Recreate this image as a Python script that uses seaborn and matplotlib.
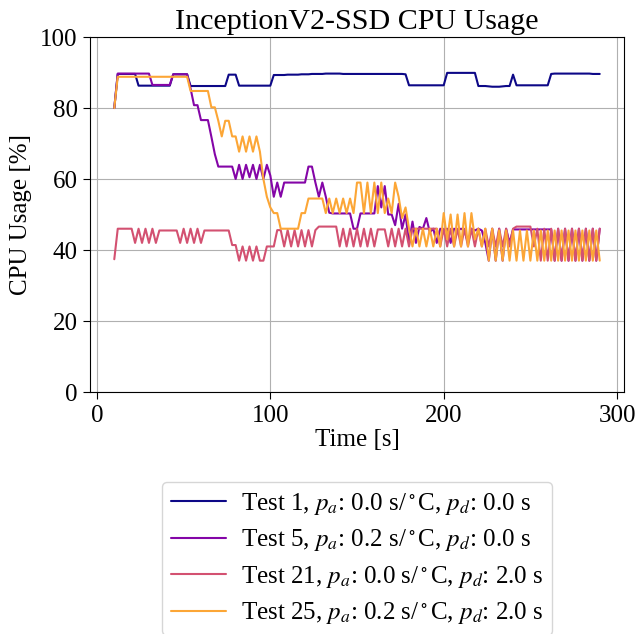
import numpy as np
import pandas as pd
import matplotlib
matplotlib.use("Agg")
import matplotlib.pyplot as plt
import seaborn as sns

# Sample times [s]
time_s = list(range(10, 291, 2))

test1 = [
    80.0, 89.6, 89.6, 89.6, 89.6, 89.6, 89.6, 86.3, 86.3, 86.3,
    86.3, 86.3, 86.3, 86.3, 86.3, 86.3, 86.3, 89.5, 89.5, 89.5,
    89.5, 89.5, 86.2, 86.2, 86.2, 86.2, 86.2, 86.2, 86.2, 86.2,
    86.2, 86.2, 86.2, 89.4, 89.4, 89.4, 86.3, 86.3, 86.3, 86.3,
    86.3, 86.3, 86.3, 86.3, 86.3, 86.3, 89.3, 89.3, 89.3, 89.3,
    89.4, 89.4, 89.4, 89.4, 89.5, 89.5, 89.5, 89.6, 89.6, 89.6,
    89.6, 89.7, 89.7, 89.7, 89.7, 89.7, 89.6, 89.6, 89.6, 89.6,
    89.6, 89.6, 89.6, 89.6, 89.6, 89.6, 89.6, 89.6, 89.6, 89.6,
    89.6, 89.6, 89.6, 89.6, 89.5, 86.4, 86.4, 86.4, 86.4, 86.4,
    86.4, 86.4, 86.4, 86.4, 86.4, 86.4, 89.9, 89.9, 89.9, 89.9,
    89.9, 89.9, 89.9, 89.9, 89.9, 86.2, 86.2, 86.2, 86.1, 86.0,
    86.0, 86.0, 86.1, 86.2, 86.2, 89.4, 86.4, 86.4, 86.4, 86.4,
    86.4, 86.4, 86.4, 86.4, 86.4, 86.4, 89.6, 89.7, 89.7, 89.7,
    89.7, 89.7, 89.7, 89.7, 89.7, 89.7, 89.7, 89.7, 89.6, 89.6,
    89.6,
]

test5 = [
    80.0, 89.7, 89.7, 89.7, 89.7, 89.7, 89.7, 89.7, 89.7, 89.7,
    89.7, 86.5, 86.5, 86.5, 86.5, 86.5, 86.5, 89.5, 89.5, 89.5,
    89.5, 89.5, 85.5, 80.8, 80.8, 76.6, 76.6, 76.6, 71.9, 67.0,
    63.5, 63.5, 63.5, 63.5, 63.5, 60.0, 64.0, 60.0, 64.0, 60.5,
    64.0, 60.0, 64.0, 60.0, 64.0, 61.0, 55.0, 59.0, 55.0, 59.0,
    59.0, 59.0, 59.0, 59.0, 59.0, 59.0, 63.5, 63.5, 59.0, 55.0,
    59.0, 55.0, 50.5, 50.3, 50.3, 50.3, 50.3, 50.3, 50.3, 46.0,
    46.0, 50.3, 50.3, 50.3, 50.3, 50.3, 58.0, 52.0, 58.0, 50.0,
    50.0, 47.0, 53.0, 46.0, 50.0, 42.0, 48.0, 42.0, 46.5, 46.0,
    49.0, 45.0, 46.0, 42.0, 46.0, 45.5, 46.0, 42.0, 46.0, 45.5,
    46.0, 45.5, 42.0, 46.0, 45.5, 46.0, 45.5, 42.0, 37.0, 46.0,
    37.0, 46.0, 37.0, 46.0, 42.0, 45.8, 45.8, 45.8, 45.8, 45.8,
    45.8, 45.8, 45.8, 45.8, 45.8, 45.8, 45.8, 37.0, 46.0, 37.0,
    46.0, 37.0, 46.0, 37.0, 46.0, 37.0, 46.0, 37.0, 46.0, 37.0,
    46.0,
]

test21 = [
    37.4, 46.0, 46.0, 46.0, 46.0, 46.0, 42.0, 46.0, 42.0, 46.0,
    42.0, 46.0, 42.0, 45.5, 45.5, 45.5, 45.5, 45.5, 45.5, 42.0,
    46.0, 42.0, 46.0, 42.0, 46.0, 42.0, 45.5, 45.5, 45.5, 45.5,
    45.5, 45.5, 45.5, 45.5, 41.4, 41.4, 37.0, 41.0, 37.0, 41.0,
    37.0, 41.0, 37.0, 37.0, 41.0, 41.0, 41.0, 45.6, 45.6, 41.0,
    45.6, 41.0, 45.6, 41.0, 45.6, 41.0, 45.6, 41.0, 45.6, 46.6,
    46.6, 46.6, 46.6, 46.6, 46.6, 41.0, 46.0, 41.0, 46.0, 41.0,
    46.0, 41.0, 46.0, 41.0, 46.0, 41.0, 45.8, 45.8, 45.8, 41.0,
    46.0, 41.0, 46.0, 41.0, 46.0, 41.0, 46.0, 46.0, 46.0, 46.0,
    46.0, 46.0, 46.0, 46.0, 41.0, 46.0, 41.0, 46.0, 41.0, 46.0,
    41.0, 46.0, 41.0, 46.0, 41.0, 46.0, 41.0, 46.0, 41.0, 46.0,
    41.0, 46.0, 41.0, 46.0, 41.0, 46.0, 46.6, 46.6, 46.6, 46.6,
    46.6, 41.0, 46.0, 37.0, 46.0, 37.0, 46.0, 37.0, 46.0, 37.0,
    46.0, 37.0, 46.0, 37.0, 46.0, 37.0, 46.0, 37.0, 46.0, 37.0,
    46.0,
]

test25 = [
    80.0, 88.8, 88.8, 88.8, 88.8, 88.8, 88.8, 88.8, 88.8, 88.8,
    88.8, 88.8, 88.8, 88.8, 88.8, 88.8, 88.8, 88.8, 88.8, 88.8,
    88.8, 88.8, 84.8, 84.8, 84.8, 84.8, 84.8, 84.8, 80.2, 80.2,
    76.4, 72.0, 76.4, 76.4, 72.0, 72.0, 67.7, 72.0, 67.7, 72.0,
    67.7, 72.0, 67.7, 60.0, 55.0, 52.0, 50.4, 50.4, 46.0, 46.0,
    46.0, 46.0, 46.0, 46.0, 50.4, 50.4, 54.5, 54.5, 54.5, 54.5,
    54.5, 50.4, 54.5, 50.4, 54.5, 50.4, 54.5, 50.4, 54.5, 50.4,
    59.0, 59.0, 50.4, 59.0, 50.4, 59.0, 50.4, 59.0, 50.4, 54.5,
    50.4, 59.0, 55.0, 49.0, 52.0, 46.0, 41.0, 46.0, 41.0, 46.0,
    41.0, 46.0, 41.0, 46.0, 41.0, 50.4, 43.0, 50.0, 41.0, 50.0,
    41.0, 50.4, 41.0, 50.4, 43.0, 46.0, 41.0, 46.0, 37.0, 46.0,
    37.0, 45.5, 37.0, 45.5, 37.0, 45.5, 37.0, 45.5, 37.0, 45.5,
    37.0, 45.5, 37.0, 45.5, 37.0, 45.5, 37.0, 45.5, 37.0, 45.5,
    37.0, 45.5, 37.0, 45.5, 37.0, 45.5, 37.0, 45.5, 37.0, 45.5,
    37.0,
]

labels = [
    r"Test 1, $p_a$: 0.0 s/$^\circ$C, $p_d$: 0.0 s",
    r"Test 5, $p_a$: 0.2 s/$^\circ$C, $p_d$: 0.0 s",
    r"Test 21, $p_a$: 0.0 s/$^\circ$C, $p_d$: 2.0 s",
    r"Test 25, $p_a$: 0.2 s/$^\circ$C, $p_d$: 2.0 s",
]

frames = []
for lab, vals in zip(labels, [test1, test5, test21, test25]):
    frames.append(pd.DataFrame({"Time": time_s, "CPU": vals, "Test": lab}))
df = pd.concat(frames, ignore_index=True)

sns.set_theme(style="ticks")
plt.rcParams["font.family"] = ["Liberation Serif", "DejaVu Serif"]
plt.rcParams["mathtext.fontset"] = "stix"
plt.rcParams["text.color"] = "black"

cmap = plt.get_cmap("plasma")
palette = [cmap(v) for v in (0.0, 0.267, 0.533, 0.8)]

fig = plt.figure(figsize=(6.37, 6.34), dpi=100)
ax = fig.add_axes([0.1413, 0.3817, 0.8383, 0.5599])

sns.lineplot(data=df, x="Time", y="CPU", hue="Test", palette=palette,
             linewidth=1.5, ax=ax, legend=False)

ax.set_ylim(0, 100)
ax.set_xlim(-4, 304)
ax.set_xticks([0, 100, 200, 300])
ax.set_yticks([0, 20, 40, 60, 80, 100])
ax.grid(True, color="#b0b0b0", linewidth=0.8)
ax.tick_params(labelsize=18, length=5, width=0.8, color="black",
               labelcolor="black", pad=4)
for sp in ax.spines.values():
    sp.set_color("black")
    sp.set_linewidth(0.8)
ax.set_xlabel("Time [s]", fontsize=18, color="black", labelpad=2)
ax.set_ylabel("CPU Usage [%]", fontsize=18, color="black", labelpad=6)
ax.set_title("InceptionV2-SSD CPU Usage", fontsize=21.6, color="black", pad=6)

handles = [plt.Line2D([], [], color=c, linewidth=1.5) for c in palette]
fig.legend(handles, labels, loc="upper center", bbox_to_anchor=(0.5605, 0.2397),
           fontsize=18, handlelength=2.2, handletextpad=0.6, frameon=True,
           fancybox=True, framealpha=0.8, edgecolor="#cccccc",
           labelspacing=0.42, borderpad=0.35, borderaxespad=0.0)

fig.savefig("out.png", dpi=100)
